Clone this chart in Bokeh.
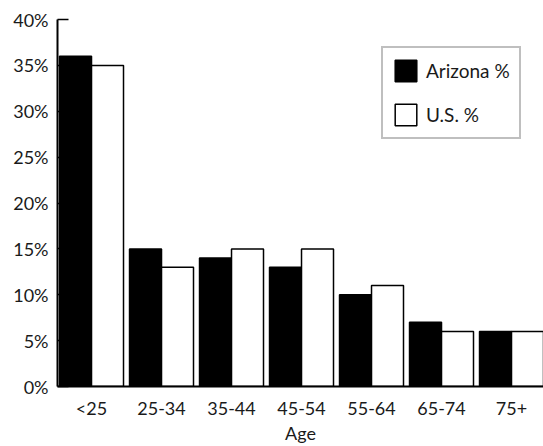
from bokeh.plotting import figure
from bokeh.models import Range1d, FixedTicker, Legend, LegendItem, ColumnDataSource
from bokeh.embed import file_html
from bokeh.resources import INLINE

ages = ["<25", "25-34", "35-44", "45-54", "55-64", "65-74", "75+"]
arizona = [36, 15, 14, 13, 10, 7, 6]
us = [35, 13, 15, 15, 11, 6, 6]
y_ticks = [0, 5, 10, 15, 20, 25, 30, 35, 40]

FONT = "Lato"
TXT = "#1a1a1a"
bw = 0.457
idx = list(range(len(ages)))
src = ColumnDataSource(dict(
    x_az=[i - bw / 2 for i in idx],
    x_us=[i + bw / 2 for i in idx],
    az=arizona,
    us=us,
))

p = figure(width=543, height=446, output_backend="svg", toolbar_location=None,
           x_range=Range1d(-0.486, 6.457), y_range=Range1d(0, 40),
           min_border_left=57, min_border_right=0, min_border_top=19, min_border_bottom=59)
p.outline_line_color = None
p.xgrid.visible = False
p.ygrid.visible = False
p.background_fill_color = "white"
p.border_fill_color = "white"

r1 = p.vbar(x="x_az", top="az", width=bw, source=src, fill_color="black",
            line_color="black", line_width=1.5)
r2 = p.vbar(x="x_us", top="us", width=bw, source=src, fill_color="white",
            line_color="black", line_width=1.5)

# y axis
ya = p.yaxis[0]
ya.ticker = FixedTicker(ticks=y_ticks)
ya.major_label_overrides = {t: f"{t}%" for t in y_ticks}
ya.major_tick_in = 11
ya.major_tick_out = 0
ya.minor_tick_in = 0
ya.minor_tick_out = 0
ya.major_tick_line_width = 1.5
ya.axis_line_width = 2
ya.major_label_standoff = 9
ya.major_label_text_font = FONT
ya.major_label_text_font_size = "18px"
ya.major_label_text_color = TXT

# x axis
xa = p.xaxis[0]
xa.ticker = FixedTicker(ticks=idx)
xa.major_label_overrides = {i: a for i, a in zip(idx, ages)}
xa.major_tick_in = 0
xa.major_tick_out = 0
xa.minor_tick_in = 0
xa.minor_tick_out = 0
xa.axis_line_width = 2
xa.major_label_standoff = 10
xa.major_label_text_font = FONT
xa.major_label_text_font_size = "18px"
xa.major_label_text_color = TXT
xa.axis_label = "Age"
xa.axis_label_text_font = FONT
xa.axis_label_text_font_size = "18px"
xa.axis_label_text_font_style = "normal"
xa.axis_label_text_color = TXT
xa.axis_label_standoff = 0

legend = Legend(items=[LegendItem(label="Arizona %", renderers=[r1]),
                       LegendItem(label="U.S. %", renderers=[r2])],
                location=(324, 247))
legend.border_line_color = "#808080"
legend.border_line_width = 2
legend.background_fill_color = "white"
legend.background_fill_alpha = 1.0
legend.padding = 9
legend.spacing = 17
legend.margin = 0
legend.glyph_width = 27
legend.glyph_height = 27
legend.label_standoff = 7
legend.label_text_font = FONT
legend.label_text_font_size = "19px"
legend.label_text_color = TXT
legend.label_height = 27
p.add_layout(legend)

open("out.html", "w").write(file_html(p, INLINE))
